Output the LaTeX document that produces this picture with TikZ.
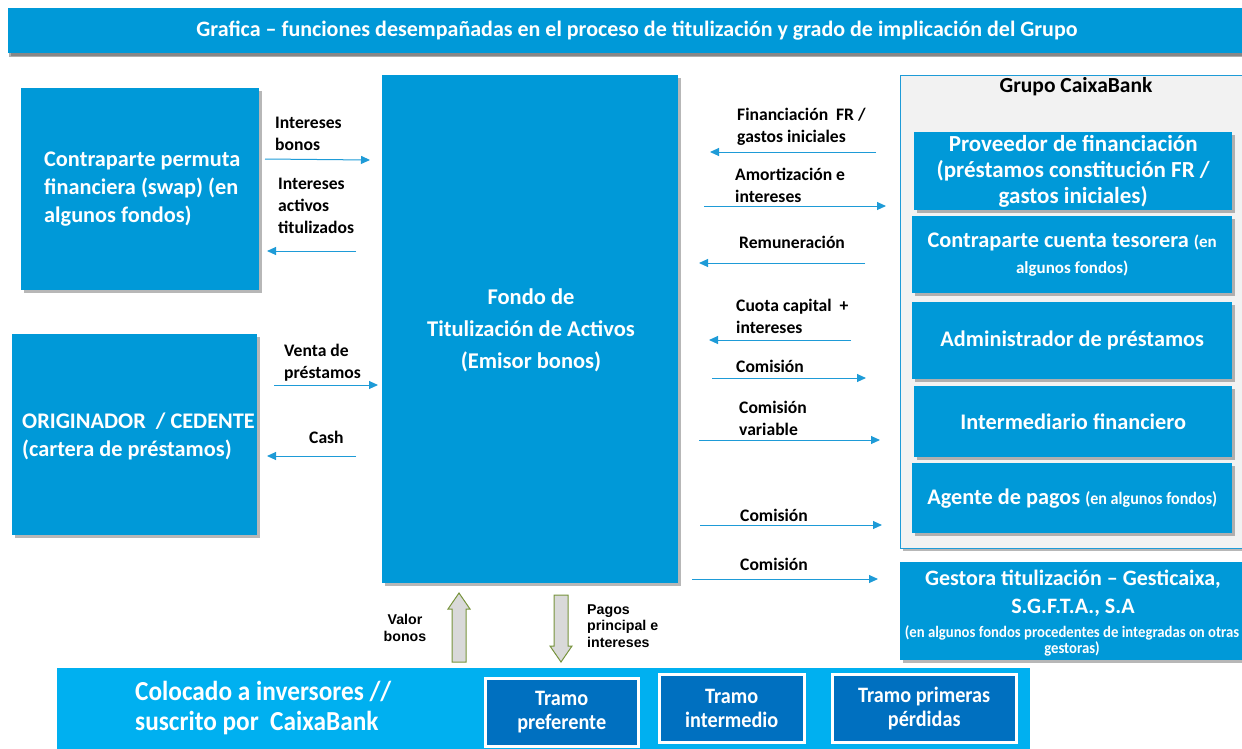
\documentclass[tikz,border=0pt]{standalone}
\usepackage{fontspec}
\setmainfont{Carlito}
\newfontfamily\arialf{Liberation Sans}
\newfontfamily\condf[FakeStretch=0.92]{Carlito}
\usetikzlibrary{arrows.meta,shadows}
\definecolor{mainblue}{RGB}{0,153,216}
\definecolor{lightblue}{RGB}{0,176,240}
\definecolor{darkblue}{RGB}{0,112,192}
\definecolor{flowblue}{RGB}{30,155,215}
\definecolor{groupfill}{RGB}{242,242,242}
\definecolor{arrowgreen}{RGB}{119,147,60}
\definecolor{arrowgray}{RGB}{217,217,217}
\begin{document}
\begin{tikzpicture}[x=1pt,y=-1pt,
  shad/.style={drop shadow={shadow xshift=2.5pt,shadow yshift=-2.5pt,fill=black!70,opacity=0.4}},
  box/.style={fill=mainblue, text=white, inner sep=0pt, anchor=north west, align=center, shad},
  bigtxt/.style={font=\fontsize{22.3}{28}\selectfont\bfseries, text=white, align=center, inner sep=0pt},
  boxfont/.style={font=\fontsize{22.3}{26}\selectfont\bfseries},
  lbl/.style={font=\fontsize{17.6}{22}\selectfont\bfseries, text=black, align=left, inner sep=0pt, anchor=west},
  flow/.style={draw=flowblue, line width=1pt, -{Triangle[length=9pt,width=8pt]}},
  tramo/.style={fill=darkblue, draw=white, line width=2.5pt, anchor=north west, inner sep=0pt, text=white, align=center, font=\fontsize{22}{24}\selectfont\bfseries\condf},
  blockarrow/.style={fill=arrowgray, draw=arrowgreen, line width=1pt, line join=miter}]
\useasboundingbox (0,0) rectangle (1242,748);

% title banner
\node[box, minimum width=1250pt, minimum height=45pt, drop shadow={shadow xshift=1pt,shadow yshift=-4pt,fill=black!70,opacity=0.45}] (banner) at (8,8) {};
\node[text=white, inner sep=0pt, font=\fontsize{22}{24}\selectfont\bfseries] (bannertxt) at (637,31) {Grafica – funciones desempañadas en el proceso de titulización y grado de implicación del Grupo};

% left boxes
\node[box, minimum width=238pt, minimum height=202pt] (swap) at (21,88) {};
\node[bigtxt, align=left, anchor=west] (swaptxt) at (44,189) {Contraparte permuta\\financiera (swap) (en\\algunos fondos)};
\node[box, minimum width=245pt, minimum height=201pt] (orig) at (12,334) {};
\node[bigtxt, align=left, anchor=west] (origtxt) at (22,436) {ORIGINADOR~~/ CEDENTE\\(cartera de préstamos)};

% central box
\node[box, minimum width=296pt, minimum height=508pt] (fondo) at (382,75) {};
\node[bigtxt, font=\fontsize{22.5}{32}\selectfont\bfseries] (fondotxt) at (531,330) {Fondo de\\Titulización de Activos\\(Emisor bonos)};

% grupo CaixaBank
\node[fill=groupfill, draw=flowblue, line width=1pt, anchor=north west, minimum width=360pt, minimum height=473pt, inner sep=0pt, shad] (grupo) at (900,75) {};
\node[font=\fontsize{21.5}{24}\selectfont\bfseries, inner sep=0pt] (grupotxt) at (1076,87) {Grupo CaixaBank};

\node[box, minimum width=318pt, minimum height=78pt, font=\fontsize{23}{26}\selectfont\bfseries] (prov) at (914,132) {Proveedor de financiación\\(préstamos constitución FR /\\gastos iniciales)};
\node[box, minimum width=320pt, minimum height=77pt, boxfont] (tes) at (912,216) {Contraparte cuenta tesorera {\fontsize{17}{20}\selectfont(en}\\{\fontsize{17}{20}\selectfont algunos fondos)}};
\node[box, minimum width=320pt, minimum height=77pt, boxfont] (admin) at (912,302) {Administrador de préstamos};
\node[box, minimum width=318pt, minimum height=71pt, boxfont] (inter) at (914,386) {Intermediario financiero};
\node[box, minimum width=320pt, minimum height=70pt, boxfont] (agente) at (912,463) {Agente de pagos {\fontsize{17.5}{20}\selectfont\condf(en algunos fondos)}};

% gestora
\node[box, minimum width=350pt, minimum height=98pt] (gest) at (900,562) {};
\node[bigtxt, font=\fontsize{22}{28}\selectfont\bfseries] (gesttxt) at (1073,593) {Gestora titulización – Gesticaixa,\\S.G.F.T.A., S.A};
\node[text=white, inner sep=0pt, align=center, font=\fontsize{16}{16}\selectfont\bfseries\condf] (gestsub) at (1072,641) {(en algunos fondos procedentes de integradas on otras\\gestoras)};

% bottom bar
\node[fill=lightblue, anchor=north west, minimum width=973pt, minimum height=85pt, inner sep=0pt] (inv) at (57,668) {};
\node[text=white, inner sep=0pt, align=left, anchor=west, font=\fontsize{27.5}{30}\selectfont\bfseries\condf] (invtxt) at (135,708) {Colocado a inversores //\\suscrito por~~CaixaBank};
\node[tramo, minimum width=153pt, minimum height=68pt] (t1) at (484,677) {Tramo\\preferente};
\node[tramo, minimum width=145pt, minimum height=68pt] (t2) at (658,673) {Tramo\\intermedio};
\node[tramo, minimum width=184pt, minimum height=68pt] (t3) at (831,673) {Tramo primeras\\pérdidas};

% block arrows
\draw[blockarrow] (459,593) -- (470,609) -- (466,609) -- (466,662) -- (452,662) -- (452,609) -- (448,609) -- cycle;
\draw[blockarrow] (561,662) -- (572,646) -- (568,646) -- (568,595) -- (554,595) -- (554,646) -- (550,646) -- cycle;
\node[inner sep=0pt, align=center, font=\fontsize{14.2}{17}\selectfont\bfseries\arialf] (valor) at (405,628) {Valor\\bonos};
\node[inner sep=0pt, align=left, anchor=west, font=\fontsize{14.2}{16.5}\selectfont\bfseries\arialf] (pagos) at (587,626) {Pagos\\principal e\\intereses};

% left flows
\node[lbl] (l1) at (275,134) {Intereses\\bonos};
\coordinate (a1s) at (265,159); \coordinate (a1e) at (370,160);
\draw[flow] (a1s) -- (a1e);
\node[lbl] (l2) at (278,206) {Intereses\\activos\\titulizados};
\coordinate (a2s) at (356,251); \coordinate (a2e) at (267,251);
\draw[flow] (a2s) -- (a2e);
\node[lbl] (l3) at (284,363) {Venta de\\préstamos};
\coordinate (a3s) at (274,385); \coordinate (a3e) at (378,385);
\draw[flow] (a3s) -- (a3e);
\node[lbl] (l4) at (309,437) {Cash};
\coordinate (a4s) at (356,456); \coordinate (a4e) at (267,456);
\draw[flow] (a4s) -- (a4e);

% right flows
\node[lbl] (r1) at (737,127) {Financiación~~FR /\\gastos iniciales};
\coordinate (b1s) at (876,152); \coordinate (b1e) at (710,152);
\draw[flow] (b1s) -- (b1e);
\node[lbl] (r2) at (735,185) {Amortización e\\intereses};
\coordinate (b2s) at (704,206); \coordinate (b2e) at (886,206);
\draw[flow] (b2s) -- (b2e);
\node[lbl] (r3) at (739,242) {Remuneración};
\coordinate (b3s) at (865,263); \coordinate (b3e) at (699,263);
\draw[flow] (b3s) -- (b3e);
\node[lbl] (r4) at (736,316) {Cuota capital~~+\\intereses};
\coordinate (b4s) at (851,340); \coordinate (b4e) at (709,340);
\draw[flow] (b4s) -- (b4e);
\node[lbl] (r5) at (736,366) {Comisión};
\coordinate (b5s) at (712,378); \coordinate (b5e) at (866,378);
\draw[flow] (b5s) -- (b5e);
\node[lbl] (r6) at (739,418) {Comisión\\variable};
\coordinate (b6s) at (699,440); \coordinate (b6e) at (880,440);
\draw[flow] (b6s) -- (b6e);
\node[lbl] (r7) at (740,515) {Comisión};
\coordinate (b7s) at (700,525); \coordinate (b7e) at (882,525);
\draw[flow] (b7s) -- (b7e);
\node[lbl] (r8) at (740,564) {Comisión};
\coordinate (b8s) at (692,579); \coordinate (b8e) at (878,579);
\draw[flow] (b8s) -- (b8e);
\end{tikzpicture}
\end{document}
